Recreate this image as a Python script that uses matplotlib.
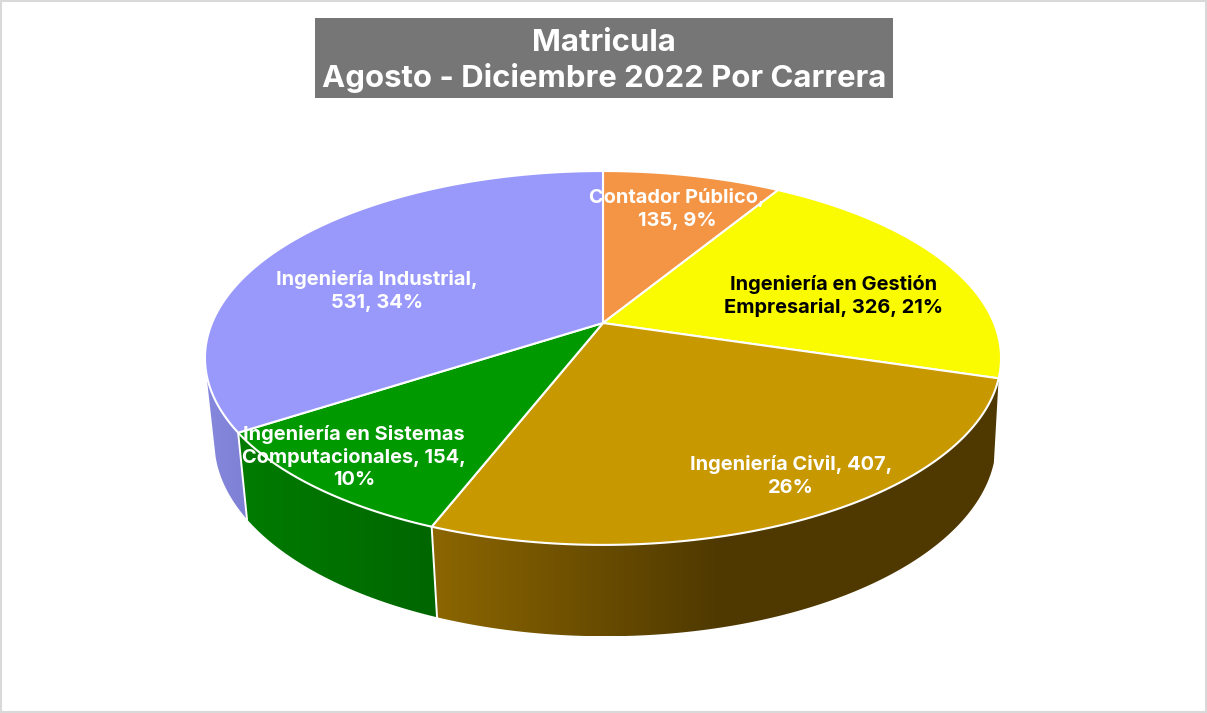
import numpy as np
import matplotlib
matplotlib.use("Agg")
import matplotlib.pyplot as plt
from matplotlib.patches import Polygon, Rectangle
from matplotlib.colors import to_rgb

# Data
categories = ["Contador Público", "Ingeniería en Gestión Empresarial", "Ingeniería Civil",
              "Ingeniería en Sistemas Computacionales", "Ingeniería Industrial"]
values = [135, 326, 407, 154, 531]
top_colors = ["#F49546", "#FAFA00", "#C89800", "#009900", "#9999FB"]
side_left = ["#F49546", "#FAFA00", "#8C6600", "#007C00", "#8688DE"]
side_right = ["#F49546", "#FAFA00", "#4F3900", "#006600", "#7E80D4"]
title_lines = ["Matricula", "Agosto - Diciembre 2022 Por Carrera"]
label_texts = ["Contador Público,\n135, 9%", "Ingeniería en Gestión\nEmpresarial, 326, 21%",
               "Ingeniería Civil, 407,\n26%", "Ingeniería en Sistemas\nComputacionales, 154,\n10%",
               "Ingeniería Industrial,\n531, 34%"]
label_xy = [(677, 209), (834, 296), (791, 476), (354, 457), (377, 291)]
label_colors = ["white", "black", "white", "white", "white"]

W, H = 1207, 713
CX, CY_TOP, R_TOP, B_TOP = 603, 323, 391, 180.4
CX_BOT, CY_BOT, R_BOT, B_BOT = 605.3, 405, 384, 188
K = 0.187
WALL_END = np.deg2rad(255)
FONT = "Inter"

def rim(t, cx, cy, r, b):
    u, v = np.sin(t), -np.cos(t)
    d = 1 - K * v
    return np.column_stack([cx + r * u / d, cy + b * v / d])

def top_rim(t):
    return rim(t, CX, CY_TOP, R_TOP, B_TOP)

def bot_rim(t):
    return rim(t, CX_BOT, CY_BOT, R_BOT, B_BOT)

fig = plt.figure(figsize=(W / 100, H / 100), dpi=100)
ax = fig.add_axes([0, 0, 1, 1])
ax.axis("off")

ax.add_patch(Rectangle((1, 1), W - 2, H - 2, fc="white", ec="#D9D9D9", lw=1.5))

fractions = np.array(values, dtype=float) / sum(values)
edges = np.concatenate([[0], np.cumsum(fractions)]) * 2 * np.pi

# side wall: one horizontal gradient per visible slice, clipped to the wall outline
for i in range(2, len(values)):
    ts = np.linspace(edges[i], min(edges[i + 1], WALL_END), 200)
    top, bot = top_rim(ts), bot_rim(ts)
    outline = np.vstack([top, bot[::-1]])
    x0, x1 = outline[:, 0].min(), outline[:, 0].max()
    y0, y1 = outline[:, 1].min(), outline[:, 1].max()
    c_a, c_b = np.array(to_rgb(side_left[i])), np.array(to_rgb(side_right[i]))
    stop = 720 if i == 2 else x1
    f = np.clip((np.linspace(x0, x1, 512) - x0) / (stop - x0), 0, 1)[None, :, None]
    img = ax.imshow(c_a + (c_b - c_a) * f, extent=(x0, x1, y1, y0), aspect="auto",
                    interpolation="bilinear", zorder=2)
    clip = Polygon(outline, closed=True, transform=ax.transData, fc="none", ec="none")
    ax.add_patch(clip)
    img.set_clip_path(clip)

# white seams on the wall
for a in edges[3:5]:
    t = np.array([a])
    pts = np.vstack([top_rim(t), bot_rim(t)])
    ax.plot(pts[:, 0], pts[:, 1], color="white", lw=1.4, zorder=3)

# top face
for i in range(len(values)):
    ts = np.linspace(edges[i], edges[i + 1], 200)
    pts = np.vstack([[CX, CY_TOP], top_rim(ts)])
    ax.add_patch(Polygon(pts, closed=True, fc=top_colors[i], ec="white", lw=1.5, joinstyle="round", zorder=4))

for (x, y), s, c in zip(label_xy, label_texts, label_colors):
    ax.text(x, y, s, ha="center", va="center", color=c, fontsize=14.4, fontweight="bold",
            family=FONT, linespacing=1.29, zorder=6)

ax.add_patch(Rectangle((315, 18), 578, 80, fc="#767676", ec="none", zorder=5))
ax.text(604, 61, "\n".join(title_lines), ha="center", va="center", color="white", fontsize=22.4,
        fontweight="bold", family=FONT, linespacing=1.24, zorder=6)

ax.set_xlim(0, W)
ax.set_ylim(H, 0)
fig.savefig("out.png", dpi=100)
